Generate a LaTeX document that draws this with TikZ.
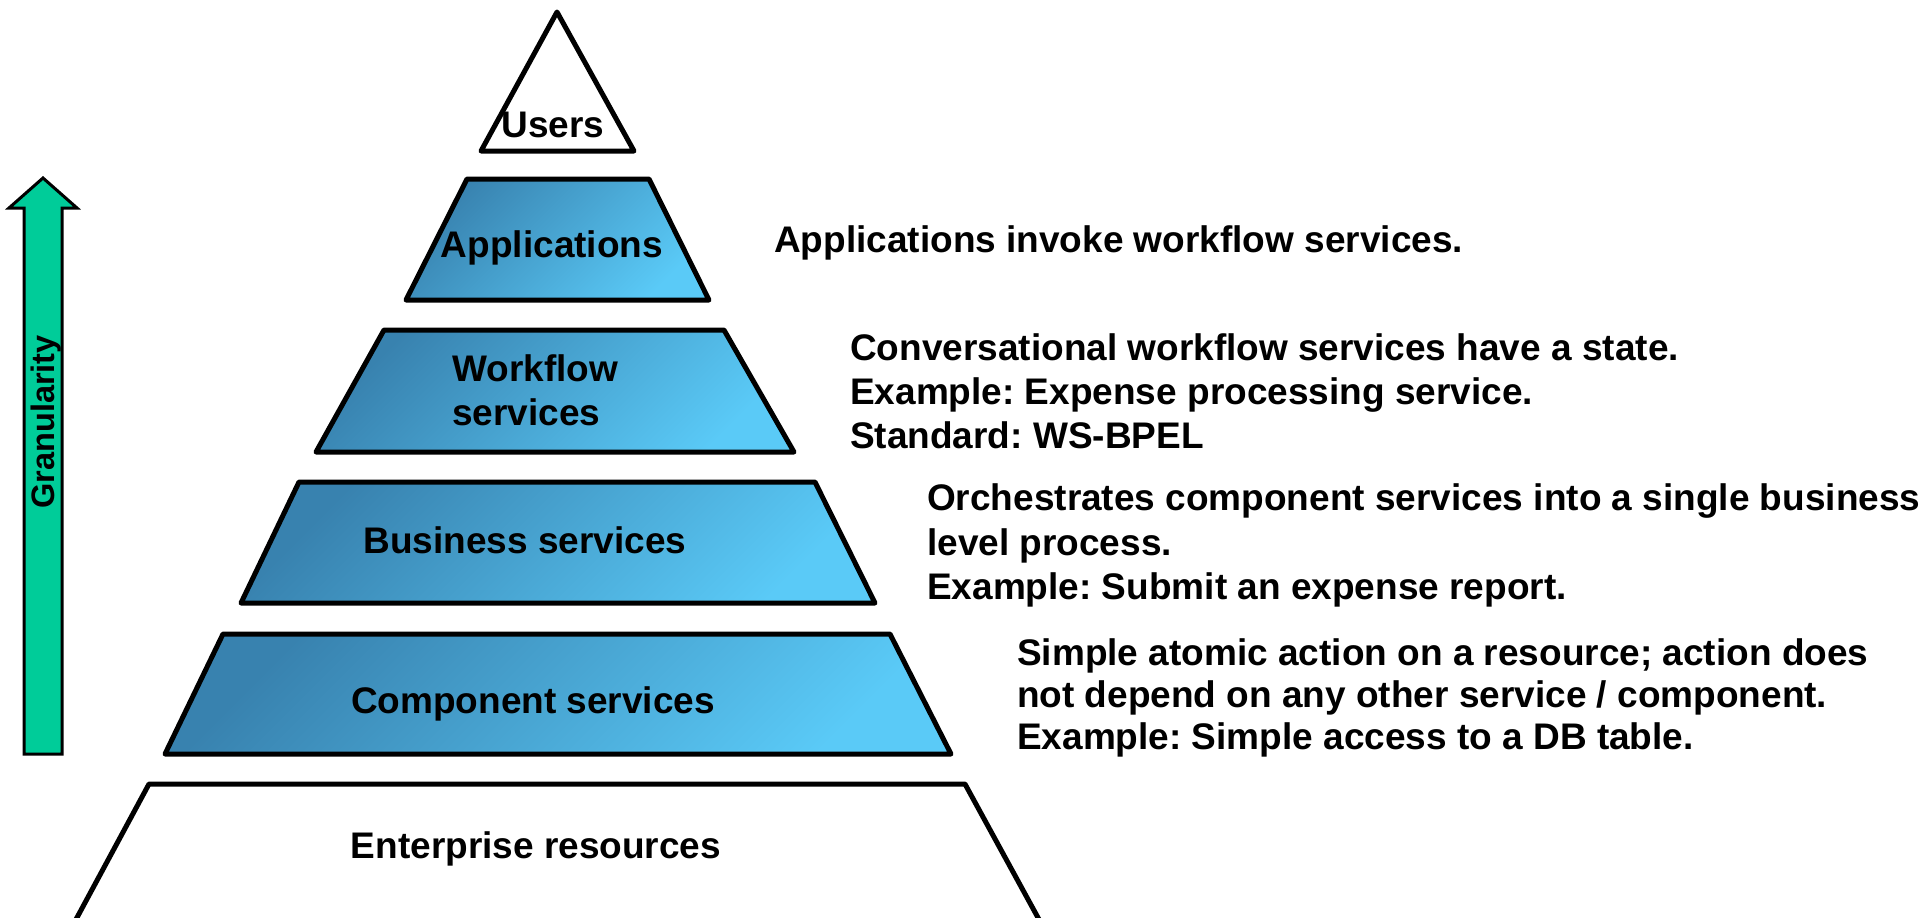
\documentclass[tikz,border=0pt]{standalone}
\usepackage{fontspec}
\setmainfont{Liberation Sans}
\frenchspacing
\begin{document}
\begin{tikzpicture}[x=1pt,y=-1pt,
  layer/.style={draw=black,line width=5pt,line join=round,top color=tdark,bottom color=tlight,shading angle=45},
  plain/.style={draw=black,line width=5pt,line join=round,fill=white},
  lbl/.style={inner sep=0pt,anchor=base,font=\fontsize{37}{44}\selectfont\bfseries},
  desc/.style={inner sep=0pt,anchor=base west,font=\fontsize{37}{44}\selectfont\bfseries}]
\definecolor{tdark}{RGB}{56,130,175}
\definecolor{tlight}{RGB}{90,202,247}
\definecolor{agreen}{RGB}{0,204,153}
\useasboundingbox (0,0) rectangle (1928,918);
% arrow
\filldraw[fill=agreen,draw=black,line width=3pt,line join=miter]
  (24,754) -- (24,208) -- (9,208) -- (43,178) -- (77,208) -- (62,208) -- (62,754) -- cycle;
\node[inner sep=0pt,anchor=base,rotate=90,font=\fontsize{32.5}{38}\selectfont\bfseries] (gran) at (54,422) {Granularity};
% pyramid
\path[plain] (557,12) -- (634,151) -- (481,151) -- cycle;
\path[layer] (467,179) -- (649,179) -- (709,300) -- (406,300) -- cycle;
\path[layer] (384,330) -- (724,330) -- (794,452) -- (316,452) -- cycle;
\path[layer] (299,482) -- (815,482) -- (875,603) -- (241,603) -- cycle;
\path[layer] (223,634) -- (890,634) -- (951,754) -- (165,754) -- cycle;
\clip (0,0) rectangle (1928,918);
\path[plain] (149,784) -- (965,784) -- (1042,925) -- (73,925) -- cycle;
% labels
\node[lbl] (users) at (553,137) {Users};
\node[lbl] (apps) at (552,257) {Applications};
\node[desc] (wf1) at (452,381) {Workflow};
\node[desc] (wf2) at (452,425) {services};
\node[lbl] (bus) at (525,553) {Business services};
\node[lbl] (comp) at (533,713) {Component services};
\node[lbl] (ent) at (536,858) {Enterprise resources};
% descriptions
\node[desc] (d1) at (774,252) {Applications invoke workflow services.};
\node[desc] (d2a) at (850,360) {Conversational workflow services have a state.};
\node[desc] (d2b) at (850,404) {Example: Expense processing service.};
\node[desc] (d2c) at (850,448) {Standard: WS-BPEL};
\node[desc] (d3a) at (927,510) {Orchestrates component services into a single business};
\node[desc] (d3b) at (927,555) {level process.};
\node[desc] (d3c) at (927,599) {Example: Submit an expense report.};
\node[desc] (d4a) at (1017,665) {Simple atomic action on a resource; action does};
\node[desc] (d4b) at (1017,707) {not depend on any other service / component.};
\node[desc] (d4c) at (1017,749) {Example: Simple access to a DB table.};
\end{tikzpicture}
\end{document}
